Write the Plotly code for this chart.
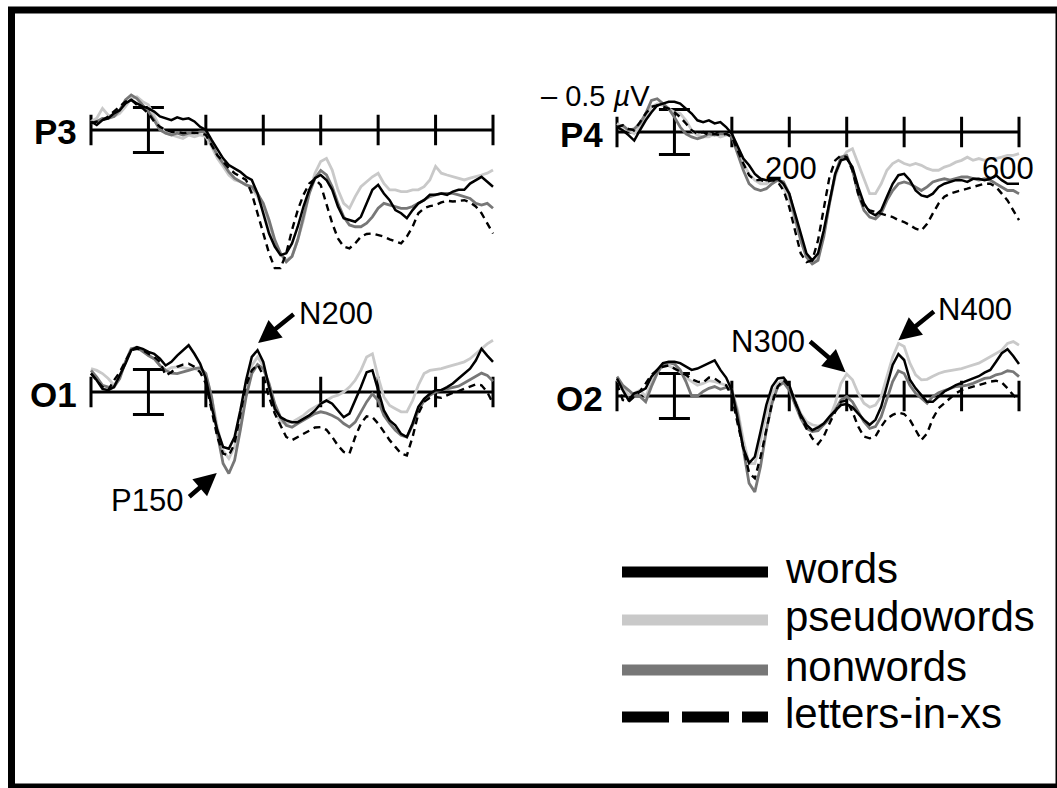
import plotly.graph_objects as go

W, H = 1057, 788

# ---------------- data ----------------
times = list(range(-100, 601, 10))  # ms
conditions = ["words", "pseudowords", "nonwords", "letters-in-xs"]
electrodes = ["P3", "P4", "O1", "O2"]
tick_ms = [-100, 100, 200, 300, 400, 500, 600]
tick_labels_p4 = {200: "200", 600: "600"}
scale_uv = 0.5

# amplitudes in microvolts (negative plotted up)
P3_words = [-0.19,-0.11,-0.22,-0.26,-0.37,-0.44,-0.59,-0.67,-0.59,-0.52,
            -0.48,-0.41,-0.30,-0.26,-0.22,-0.28,-0.24,-0.26,-0.19,-0.07,
            0.00,0.22,0.44,0.63,0.78,0.85,0.93,1.04,1.11,1.41,
            1.85,2.30,2.59,2.78,2.74,2.52,2.15,1.70,1.33,1.07,
            1.00,1.11,1.33,1.70,1.96,2.00,2.04,1.93,1.63,1.33,
            1.22,1.41,1.56,1.78,1.85,1.96,1.78,1.63,1.56,1.44,
            1.44,1.41,1.44,1.37,1.33,1.33,1.19,1.11,1.04,1.15,1.26]
P3_pseudo = [-0.19,-0.26,-0.48,-0.33,-0.30,-0.37,-0.52,-0.70,-0.74,-0.63,
             -0.56,-0.30,-0.07,0.07,0.11,0.15,0.19,0.11,0.15,0.11,
             0.15,0.37,0.63,0.81,1.00,1.11,1.15,1.22,1.30,1.48,
             1.78,2.15,2.52,2.74,2.89,2.81,2.44,2.00,1.41,0.96,
             0.70,0.63,0.89,1.33,1.63,1.74,1.48,1.26,1.15,1.04,
             0.96,1.19,1.33,1.33,1.37,1.37,1.33,1.33,1.26,1.11,
             0.81,0.96,1.00,1.04,1.07,1.11,1.07,1.04,1.00,0.96,0.89]
P3_non = [-0.15,-0.19,-0.26,-0.26,-0.30,-0.44,-0.67,-0.78,-0.70,-0.56,
          -0.41,-0.22,0.00,0.07,0.11,0.07,0.11,0.07,0.07,0.04,
          0.04,0.30,0.56,0.74,0.93,1.07,1.15,1.22,1.26,1.41,
          1.63,2.00,2.44,2.74,2.93,2.81,2.44,1.93,1.41,1.07,
          0.90,1.00,1.26,1.63,1.93,2.11,2.15,2.15,2.07,1.93,
          1.74,1.63,1.67,1.70,1.74,1.74,1.70,1.63,1.56,1.48,
          1.44,1.41,1.41,1.41,1.44,1.48,1.52,1.63,1.67,1.63,1.74]
P3_xs = [-0.15,-0.19,-0.22,-0.30,-0.41,-0.52,-0.63,-0.67,-0.56,-0.48,
         -0.37,-0.19,-0.07,0.00,0.04,0.04,0.07,0.06,0.07,0.07,
         0.11,0.33,0.56,0.70,0.85,0.96,1.04,1.11,1.41,1.85,
         2.30,2.74,3.07,3.07,2.74,2.22,1.78,1.44,1.19,1.09,
         1.22,1.63,2.07,2.41,2.59,2.63,2.52,2.37,2.31,2.30,
         2.33,2.37,2.43,2.48,2.52,2.37,2.15,1.85,1.74,1.69,
         1.67,1.61,1.57,1.59,1.57,1.56,1.61,1.70,1.85,2.07,2.30]

P4_words = [-0.11,-0.04,0.07,0.19,-0.04,-0.26,-0.44,-0.59,-0.63,-0.67,
            -0.67,-0.63,-0.52,-0.41,-0.26,-0.22,-0.26,-0.19,-0.22,-0.11,
            0.04,0.33,0.59,0.74,0.93,1.04,1.07,1.07,1.04,1.15,
            1.37,1.81,2.26,2.70,2.85,2.70,2.19,1.52,0.93,0.63,
            0.59,0.78,1.22,1.59,1.78,1.85,1.74,1.44,1.15,0.96,
            0.93,1.07,1.30,1.41,1.44,1.37,1.22,1.15,1.11,1.07,
            1.07,1.11,1.04,1.04,1.07,1.04,0.96,1.07,1.15,1.15,1.15]
P4_pseudo = [-0.19,-0.11,-0.04,0.04,-0.11,-0.33,-0.56,-0.63,-0.59,-0.52,
             -0.44,-0.41,-0.26,-0.04,0.07,0.11,0.11,0.04,0.11,0.07,
             0.07,0.41,0.70,0.93,1.07,1.15,1.15,1.07,1.07,1.22,
             1.52,1.96,2.41,2.78,2.89,2.78,2.26,1.59,1.00,0.63,
             0.44,0.37,0.70,1.07,1.37,1.37,1.15,0.85,0.70,0.63,
             0.70,0.74,0.70,0.74,0.81,0.85,0.85,0.78,0.74,0.67,
             0.63,0.56,0.63,0.59,0.63,0.59,0.59,0.56,0.52,0.52,0.48]
P4_non = [-0.11,-0.15,-0.04,-0.07,-0.19,-0.41,-0.70,-0.74,-0.63,-0.52,
          -0.33,-0.11,0.04,0.11,0.15,0.11,0.04,0.07,0.04,0.04,
          0.11,0.48,0.85,1.15,1.26,1.30,1.26,1.15,1.07,1.11,
          1.37,1.89,2.41,2.78,2.93,2.85,2.33,1.59,0.93,0.56,
          0.52,0.85,1.37,1.74,1.89,1.93,1.81,1.52,1.30,1.15,
          1.11,1.15,1.22,1.30,1.22,1.11,1.07,1.04,1.07,1.04,
          1.00,1.00,1.04,1.07,1.04,1.07,1.15,1.22,1.30,1.30,1.37]
P4_xs = [-0.11,-0.15,-0.07,-0.04,-0.22,-0.41,-0.56,-0.59,-0.56,-0.52,
         -0.44,-0.33,-0.19,-0.04,0.04,0.00,0.07,0.04,0.07,0.04,
         0.11,0.41,0.70,0.96,1.07,1.07,1.11,1.07,1.11,1.30,
         1.67,2.19,2.70,2.89,2.85,2.41,1.67,1.00,0.63,0.52,
         0.56,0.85,1.37,1.67,1.74,1.78,1.81,1.85,1.89,1.96,
         2.00,2.07,2.15,2.19,2.04,1.81,1.59,1.44,1.37,1.33,
         1.30,1.26,1.22,1.19,1.15,1.15,1.22,1.37,1.52,1.74,1.96]

O1_words = [-0.41,-0.26,-0.07,-0.04,-0.11,-0.37,-0.63,-0.93,-1.00,-0.96,
            -0.89,-0.85,-0.74,-0.59,-0.67,-0.81,-0.93,-1.04,-0.85,-0.63,
            -0.30,0.33,0.85,1.22,1.26,1.00,0.41,-0.26,-0.78,-0.93,
            -0.67,-0.11,0.37,0.56,0.63,0.67,0.67,0.59,0.52,0.41,
            0.26,0.19,0.26,0.41,0.56,0.48,0.19,-0.11,-0.44,-0.48,
            -0.04,0.41,0.63,0.74,0.93,1.00,0.70,0.33,0.15,0.04,
            -0.04,-0.04,-0.11,-0.19,-0.30,-0.41,-0.52,-0.70,-0.96,-0.81,-0.67]
O1_pseudo = [-0.52,-0.48,-0.41,-0.30,-0.15,-0.33,-0.67,-0.93,-0.99,-0.93,
             -0.81,-0.74,-0.59,-0.48,-0.54,-0.56,-0.54,-0.52,-0.52,-0.48,
             -0.37,0.11,0.78,1.30,1.48,1.22,0.63,-0.04,-0.59,-0.78,
             -0.59,-0.11,0.41,0.67,0.70,0.67,0.59,0.52,0.41,0.33,
             0.26,0.19,0.11,0.07,0.00,-0.11,-0.26,-0.48,-0.78,-0.85,
             -0.33,0.11,0.30,0.37,0.44,0.44,0.19,-0.15,-0.41,-0.48,
             -0.50,-0.52,-0.56,-0.59,-0.63,-0.67,-0.74,-0.85,-0.96,-1.07,-1.15]
O1_non = [-0.48,-0.33,-0.15,-0.11,-0.11,-0.30,-0.67,-0.96,-0.99,-0.89,
          -0.81,-0.74,-0.59,-0.48,-0.42,-0.41,-0.44,-0.48,-0.52,-0.54,
          -0.41,0.11,0.93,1.59,1.81,1.52,0.85,0.11,-0.41,-0.61,
          -0.52,-0.19,0.26,0.56,0.74,0.78,0.70,0.63,0.56,0.48,
          0.44,0.47,0.52,0.59,0.70,0.78,0.67,0.44,0.22,0.04,
          0.19,0.52,0.70,0.85,0.96,1.00,0.74,0.41,0.19,0.07,
          0.00,-0.04,-0.07,-0.10,-0.13,-0.20,-0.27,-0.35,-0.42,-0.37,-0.24]
O1_xs = [-0.41,-0.26,-0.11,-0.04,-0.26,-0.44,-0.70,-0.93,-0.96,-0.93,
         -0.85,-0.78,-0.67,-0.37,-0.44,-0.56,-0.61,-0.63,-0.56,-0.44,
         -0.19,0.41,1.00,1.37,1.41,1.15,0.48,-0.15,-0.48,-0.61,
         -0.37,0.11,0.48,0.74,1.00,1.07,1.00,0.93,0.85,0.79,
         0.78,0.84,1.00,1.19,1.33,1.37,1.00,0.70,0.54,0.56,
         0.70,0.89,1.07,1.22,1.37,1.41,1.00,0.48,0.22,0.13,
         0.11,0.13,0.07,0.02,-0.02,-0.07,-0.13,-0.17,-0.15,0.00,0.26]

O2_words = [-0.39,-0.13,0.09,-0.06,-0.10,-0.17,-0.43,-0.58,-0.73,-0.76,
            -0.76,-0.73,-0.65,-0.58,-0.61,-0.67,-0.74,-0.79,-0.58,-0.41,
            -0.13,0.53,1.16,1.49,1.35,0.79,0.20,-0.21,-0.39,-0.41,
            -0.24,0.13,0.42,0.64,0.76,0.70,0.61,0.46,0.33,0.20,
            0.18,0.25,0.39,0.53,0.64,0.53,0.24,-0.21,-0.69,-0.93,
            -0.80,-0.36,-0.17,-0.02,0.13,0.13,0.01,-0.10,-0.17,-0.24,
            -0.29,-0.34,-0.39,-0.44,-0.52,-0.58,-0.76,-0.95,-1.04,-0.89,-0.71]
O2_pseudo = [-0.36,-0.21,-0.02,-0.06,-0.13,0.01,-0.28,-0.58,-0.69,-0.67,
             -0.61,-0.54,-0.41,-0.32,-0.24,-0.28,-0.34,-0.32,-0.28,-0.24,
             -0.13,0.31,0.98,1.50,1.50,0.98,0.39,-0.06,-0.28,-0.36,
             -0.21,0.09,0.39,0.57,0.64,0.67,0.61,0.50,0.16,-0.28,
             -0.49,-0.36,-0.06,0.16,0.25,0.20,0.01,-0.43,-0.87,-1.17,
             -1.10,-0.73,-0.47,-0.36,-0.37,-0.44,-0.50,-0.54,-0.56,-0.58,
             -0.61,-0.65,-0.69,-0.73,-0.80,-0.87,-0.95,-1.02,-1.17,-1.21,-1.13]
O2_non = [-0.43,-0.24,-0.13,-0.02,0.01,0.13,-0.21,-0.50,-0.71,-0.74,
          -0.71,-0.58,-0.32,0.00,0.00,-0.10,-0.17,-0.21,-0.15,-0.19,
          -0.13,0.39,1.19,1.94,2.13,1.56,0.76,0.16,-0.21,-0.30,
          -0.13,0.20,0.50,0.72,0.79,0.77,0.64,0.50,0.31,0.09,
          0.01,0.13,0.35,0.57,0.72,0.68,0.46,0.09,-0.32,-0.56,
          -0.50,-0.24,-0.06,0.05,0.16,0.01,-0.07,-0.12,-0.17,-0.21,
          -0.22,-0.24,-0.28,-0.34,-0.39,-0.41,-0.47,-0.50,-0.56,-0.54,-0.43]
O2_xs = [-0.28,0.09,0.13,0.01,-0.10,-0.28,-0.47,-0.58,-0.65,-0.68,
         -0.61,-0.54,-0.47,-0.37,-0.32,-0.30,-0.41,-0.39,-0.30,-0.24,
         0.01,0.61,1.19,1.71,1.83,1.35,0.76,0.16,-0.21,-0.36,
         -0.21,0.13,0.46,0.72,0.94,1.07,0.90,0.61,0.35,0.13,
         0.10,0.35,0.68,0.90,0.94,0.90,0.68,0.50,0.42,0.37,
         0.40,0.53,0.76,0.98,0.83,0.50,0.27,0.16,0.05,-0.06,
         -0.13,-0.17,-0.21,-0.24,-0.28,-0.32,-0.34,-0.30,-0.17,-0.02,0.09]

data = {
    "P3": [P3_words, P3_pseudo, P3_non, P3_xs],
    "P4": [P4_words, P4_pseudo, P4_non, P4_xs],
    "O1": [O1_words, O1_pseudo, O1_non, O1_xs],
    "O2": [O2_words, O2_pseudo, O2_non, O2_xs],
}
for k, v in data.items():
    for s in v:
        assert len(s) == len(times), (k, len(s))

# ---------------- styling ----------------
line_color = ["#000000", "#c9c9c9", "#777777", "#000000"]
line_width = [2.5, 2.8, 2.8, 2.4]
line_dash = ["solid", "solid", "solid", "7px,5px"]
draw_order = [1, 2, 0, 3]

FONT = "Liberation Sans, Arial, Helvetica, sans-serif"
PX_PER_UV = 45.0

# panel geometry in pixels: x of -100 ms, x of 600 ms, axis y, top, bottom
geom = {
    "P3": (91, 493, 130, 40, 300),
    "P4": (617, 1019, 132, 40, 300),
    "O1": (91, 493, 392, 300, 540),
    "O2": (617, 1019, 396, 300, 540),
}

fig = go.Figure()
layout = dict(
    width=W, height=H, margin=dict(l=0, r=0, t=0, b=0),
    paper_bgcolor="white", plot_bgcolor="rgba(0,0,0,0)",
    showlegend=False,
)
shapes = []
annotations = []

def fx(p):
    return p / W

def fy(p):
    return 1 - p / H

for i, el in enumerate(electrodes):
    n = "" if i == 0 else str(i + 1)
    xl, xr, ay, top, bot = geom[el]
    ppms = (xr - xl) / 700.0
    pad = 4
    layout["xaxis" + n] = dict(
        domain=[fx(xl - pad * ppms), fx(xr + pad * ppms)],
        range=[-100 - pad, 600 + pad], visible=False, anchor="y" + n,
        fixedrange=True)
    layout["yaxis" + n] = dict(
        domain=[fy(bot), fy(top)],
        range=[(bot - ay) / PX_PER_UV, (top - ay) / PX_PER_UV],
        visible=False, anchor="x" + n, fixedrange=True)
    xr_, yr_ = "x" + n, "y" + n
    for j in draw_order:
        fig.add_trace(go.Scatter(
            x=times, y=data[el][j], mode="lines", name=conditions[j],
            xaxis=xr_, yaxis=yr_, hoverinfo="skip",
            line=dict(color=line_color[j], width=line_width[j], dash=line_dash[j])))
    # baseline
    shapes.append(dict(type="line", xref=xr_, yref=yr_, x0=times[0], x1=times[-1],
                       y0=0, y1=0, line=dict(color="black", width=3), layer="below"))
    # ticks
    for t in tick_ms:
        shapes.append(dict(type="line", xref=xr_, yref=yr_, x0=t, x1=t,
                           y0=-0.34, y1=0.34, line=dict(color="black", width=3),
                           layer="below"))
    # scale bar at 0 ms
    shapes.append(dict(type="line", xref=xr_, yref=yr_, x0=0, x1=0,
                       y0=-scale_uv, y1=scale_uv, line=dict(color="black", width=3),
                       layer="below"))
    for yy in (-scale_uv, scale_uv):
        shapes.append(dict(type="line", xref=xr_, yref=yr_, x0=-27, x1=27,
                           y0=yy, y1=yy, line=dict(color="black", width=3),
                           layer="below"))
    # electrode label
    annotations.append(dict(
        text="<b>%s</b>" % el, xref="paper", yref="paper",
        x=fx(xl - 12), y=fy(ay + 2), xanchor="right", yanchor="middle",
        showarrow=False, font=dict(family=FONT, size=35, color="black")))
    if el == "P4":
        for t, lab in tick_labels_p4.items():
            annotations.append(dict(
                text=lab, xref=xr_, yref=yr_, x=t, y=0.82,
                xanchor="center", yanchor="middle", showarrow=False,
                xshift=(-11 if t == 600 else 2),
                font=dict(family=FONT, size=31, color="black")))

# microvolt label
annotations.append(dict(text="– 0.5 <i>µ</i>V", xref="paper", yref="paper",
                        x=fx(595), y=fy(96), xanchor="center", yanchor="middle",
                        showarrow=False, font=dict(family=FONT, size=29, color="black")))

# component labels with arrows: (label, panel, tip ms, tip uV, tail dx, tail dy, text px x, text px y)
components = [
    ("N200", "O1", 191, -1.09, 37, -30, 336, 313),
    ("P150", "O1", 119, 1.80, -29, 25, 147, 500),
    ("N300", "O2", 298, -0.53, -37, -32, 768, 341),
    ("N400", "O2", 390, -1.24, 37, -30, 975, 309),
]
for lab, el, tms, tuv, dx, dy, tx, ty in components:
    i = electrodes.index(el)
    n = "" if i == 0 else str(i + 1)
    annotations.append(dict(text="", xref="x" + n, yref="y" + n, x=tms, y=tuv,
                            ax=dx, ay=dy, showarrow=True, arrowhead=2,
                            arrowsize=1.0, arrowwidth=4.5, arrowcolor="black"))
    annotations.append(dict(text=lab, xref="paper", yref="paper", x=fx(tx), y=fy(ty),
                            xanchor="center", yanchor="middle", showarrow=False,
                            font=dict(family=FONT, size=31, color="black")))

# legend (manual, long sample lines)
leg_y = [572, 620, 670, 717]
leg_line = {0: ("#000000", "solid"), 1: ("#c9c9c9", "solid"),
            2: ("#777777", "solid"), 3: ("#000000", "47px,13px")}
for k, name in enumerate(conditions):
    c, d = leg_line[k]
    shapes.append(dict(type="line", xref="paper", yref="paper",
                       x0=fx(622), x1=fx(768), y0=fy(leg_y[k]), y1=fy(leg_y[k]),
                       line=dict(color=c, width=11, dash=d)))
    annotations.append(dict(text=name, xref="paper", yref="paper",
                            x=fx(783), y=fy(leg_y[k] - 4), xanchor="left",
                            yanchor="middle", showarrow=False,
                            font=dict(family=FONT, size=42, color="black")))

# outer frame
shapes.append(dict(type="rect", xref="paper", yref="paper",
                   x0=fx(11.5), x1=fx(1059), y0=fy(787), y1=fy(10),
                   line=dict(color="black", width=7), fillcolor="rgba(0,0,0,0)"))

layout["shapes"] = shapes
layout["annotations"] = annotations
fig.update_layout(**layout)
fig.write_html("out.html")
